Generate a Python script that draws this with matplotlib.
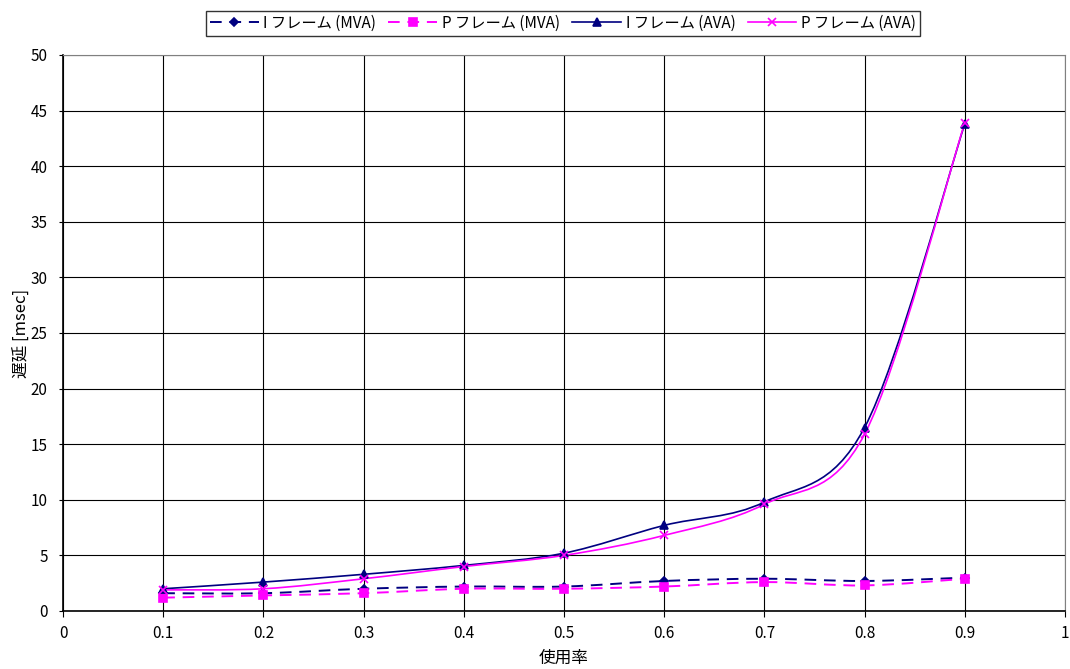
import matplotlib.pyplot as plt
import numpy as np
from matplotlib.path import Path
from matplotlib.patches import PathPatch
from matplotlib.lines import Line2D

plt.rcParams['font.family'] = ['Noto Sans CJK JP', 'DejaVu Sans']

usage = [0.1, 0.2, 0.3, 0.4, 0.5, 0.6, 0.7, 0.8, 0.9]
i_mva = [1.6, 1.6, 2.0, 2.2, 2.2, 2.7, 2.9, 2.7, 3.0]
p_mva = [1.2, 1.4, 1.6, 2.0, 2.0, 2.2, 2.6, 2.3, 2.9]
i_ava = [2.0, 2.6, 3.3, 4.1, 5.2, 7.7, 9.8, 16.5, 43.8]
p_ava = [1.9, 2.0, 2.9, 4.0, 5.0, 6.8, 9.6, 15.9, 43.9]

labels = ["I フレーム (MVA)", "P フレーム (MVA)", "I フレーム (AVA)", "P フレーム (AVA)"]


def smooth_path(x, y, t=1 / 6):
    # Bezier path through the points (Excel-style smoothed line)
    x = np.asarray(x, float)
    y = np.asarray(y, float)
    verts = [(x[0], y[0])]
    codes = [Path.MOVETO]
    n = len(x)
    for k in range(n - 1):
        x0, y0 = (x[k - 1], y[k - 1]) if k > 0 else (x[k], y[k])
        x3, y3 = (x[k + 2], y[k + 2]) if k + 2 < n else (x[k + 1], y[k + 1])
        c1 = (x[k] + (x[k + 1] - x0) * t, y[k] + (y[k + 1] - y0) * t)
        c2 = (x[k + 1] - (x3 - x[k]) * t, y[k + 1] - (y3 - y[k]) * t)
        verts += [c1, c2, (x[k + 1], y[k + 1])]
        codes += [Path.CURVE4] * 3
    return Path(verts, codes)


fig = plt.figure(figsize=(10.7, 6.69), dpi=100)
ax = fig.add_axes([0.0589, 0.0867, 0.9364, 0.8311])

series = [
    (i_mva, "#000080", "D", (0, (6, 4)), 4, 1.4),
    (p_mva, "#FF00FF", "s", (0, (6, 4)), 6, 1.4),
    (i_ava, "#000080", "^", "-", 6, 1.2),
    (p_ava, "#FF00FF", "x", "-", 6, 1.2),
]

handles = []
for (vals, col, mk, ls, ms, lw), lab in zip(series, labels):
    ax.add_patch(PathPatch(smooth_path(usage, vals), fill=False, edgecolor=col,
                           lw=lw, linestyle=ls, zorder=3))
    ax.plot(usage, vals, linestyle="none", marker=mk, color=col, ms=ms,
            mew=1.2, zorder=4)
    handles.append(Line2D([], [], color=col, linestyle=ls, lw=lw, marker=mk,
                          ms=ms, mew=1.2))

ax.set_xlim(0, 1)
ax.set_ylim(0, 50)
ax.set_xticks(np.arange(0, 1.01, 0.1))
ax.set_xticklabels(["0", "0.1", "0.2", "0.3", "0.4", "0.5", "0.6", "0.7", "0.8", "0.9", "1"])
ax.set_yticks(np.arange(0, 51, 5))
ax.grid(True, color="black", lw=0.8)
ax.set_axisbelow(True)
ax.tick_params(axis="x", labelsize=11, length=4, direction="out", pad=6)
ax.tick_params(axis="y", labelsize=11, length=3, direction="out", pad=8)
for s in ["top", "right"]:
    ax.spines[s].set_color("#808080")
ax.spines["left"].set_linewidth(1.2)
ax.spines["bottom"].set_linewidth(1.2)

ax.set_xlabel("使用率", fontsize=12, labelpad=6)
ax.set_ylabel("遅延 [msec]", fontsize=12, labelpad=0)

leg = fig.legend(handles, labels, loc="upper center", bbox_to_anchor=(0.526, 0.995),
                 ncol=4, fontsize=11, frameon=True, fancybox=False,
                 edgecolor="black", handlelength=3.2, columnspacing=0.8,
                 handletextpad=0.3, borderpad=0.25)
leg.get_frame().set_linewidth(1.0)

fig.savefig("out.png", dpi=100)
